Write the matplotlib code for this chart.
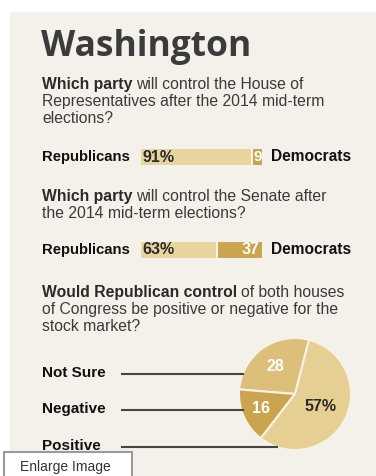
import matplotlib
matplotlib.use("Agg")
import matplotlib.pyplot as plt
from matplotlib.patches import Rectangle
from matplotlib.lines import Line2D
import numpy as np

# data
bar_parties = ["Republicans", "Democrats"]
house_vals = [91, 9]
senate_vals = [63, 37]
pie_labels = ["Not Sure", "Negative", "Positive"]
pie_vals = [28, 16, 57]
pie_texts = ["28", "16", "57%"]

W, H = 376, 476
BG = "#f4f1ea"
LIGHT = "#e8d49f"
DARK = "#caa44f"
PIE_COLORS = ["#dcbf7a", "#caa44f", "#e6cf93"]
TXT = "#2a2a2a"
BODY = 11.3

plt.rcParams["font.family"] = ["Liberation Sans", "DejaVu Sans"]

fig = plt.figure(figsize=(W / 100, H / 100), dpi=100)
fig.patch.set_facecolor("white")


def fx(x):
    return x / W


def fy(y):
    return 1 - y / H


# beige panel
fig.add_artist(Rectangle((fx(10), 0), 1, fy(12), transform=fig.transFigure,
                         facecolor=BG, edgecolor="none", zorder=0))

fig.text(fx(41), fy(56), "Washington", fontsize=25.5, fontweight="bold",
         color="#3b3b3b", family="Open Sans", va="baseline")

renderer = fig.canvas.get_renderer()


def rich_line(x, y, bold, rest, size=BODY):
    t = fig.text(fx(x), fy(y), bold, fontsize=size, fontweight="bold",
                 color=TXT, va="baseline")
    if rest:
        w = t.get_window_extent(renderer).width
        fig.text(fx(x + w + 4), fy(y), rest, fontsize=size, color="#3a3a3a",
                 va="baseline")


def plain_line(x, y, s, size=BODY):
    fig.text(fx(x), fy(y), s, fontsize=size, color="#3a3a3a", va="baseline")


# question 1
rich_line(42, 89, "Which party", "will control the House of")
plain_line(42, 106, "Representatives after the 2014 mid-term")
plain_line(42, 123, "elections?")


def bar_row(vals, yc):
    ax = fig.add_axes([fx(140), fy(yc + 9), 123 / W, 18 / H])
    ax.barh([0], [vals[0]], left=0, height=1, color=LIGHT, edgecolor=BG, linewidth=1.5)
    ax.barh([0], [vals[1]], left=vals[0], height=1, color=DARK, edgecolor=BG, linewidth=1.5)
    ax.set_xlim(0, 100)
    ax.set_ylim(-0.5, 0.5)
    ax.axis("off")
    ax.text(2, 0, f"{vals[0]}%", fontsize=11.5, fontweight="bold", color=TXT,
            va="center", ha="left")
    if vals[1] < 15:
        # narrow box: centre the number in it
        ax.text(vals[0] + vals[1] / 2 + 0.5, 0, f"{vals[1]}", fontsize=11, fontweight="bold",
                color="white", va="center", ha="center")
    else:
        ax.text(97.5, 0, f"{vals[1]}", fontsize=11.5, fontweight="bold", color="white",
                va="center", ha="right")
    fig.text(fx(42), fy(yc), bar_parties[0], fontsize=10.7, fontweight="bold",
             color="#111111", va="center")
    fig.text(fx(271), fy(yc), bar_parties[1], fontsize=11.2, fontweight="bold",
             color="#111111", va="center")


bar_row(house_vals, 157)

# question 2
rich_line(42, 201, "Which party", "will control the Senate after")
plain_line(42, 218, "the 2014 mid-term elections?")

bar_row(senate_vals, 250)

# question 3
rich_line(42, 297, "Would Republican control", "of both houses")
plain_line(42, 314, "of Congress be positive or negative for the")
plain_line(42, 331, "stock market?")

# pie
cx, cy, r = 295, 394, 56
pax = fig.add_axes([fx(cx - r), fy(cy + r), 2 * r / W, 2 * r / H])
wedges, _ = pax.pie(pie_vals, colors=PIE_COLORS, startangle=75.5, counterclock=True,
                    radius=1, wedgeprops=dict(edgecolor="#f7f2e6", linewidth=1.5))
pax.set_xlim(-1, 1)
pax.set_ylim(-1, 1)
pax.set_aspect("equal")
pax.axis("off")
label_r = [0.6, 0.66, 0.5]
label_c = ["white", "white", TXT]
for wdg, s, rr, c in zip(wedges, pie_texts, label_r, label_c):
    a = np.deg2rad((wdg.theta1 + wdg.theta2) / 2)
    pax.text(rr * np.cos(a), rr * np.sin(a), s, fontsize=11.5, fontweight="bold",
             color=c, ha="center", va="center")

# pie labels with leader lines
label_y = [373, 409, 446]
line_end = [243, 243, 277]
for lab, ly, le in zip(pie_labels, label_y, line_end):
    fig.text(fx(42), fy(ly), lab, fontsize=11, fontweight="bold", color="#111111",
             va="center")
    fig.add_artist(Line2D([fx(122), fx(le)], [fy(ly + 1), fy(ly + 1)],
                          transform=fig.transFigure, color="#444444", linewidth=1.5,
                          zorder=1))

# enlarge box
fig.add_artist(Rectangle((fx(4), fy(480)), 128 / W, 28 / H, transform=fig.transFigure,
                         facecolor="white", edgecolor="#9a9a9a", linewidth=1.5, zorder=5))
fig.text(fx(20), fy(467), "Enlarge Image", fontsize=10, color="#333333", va="center",
         zorder=6)

fig.savefig("out.png", dpi=100)
